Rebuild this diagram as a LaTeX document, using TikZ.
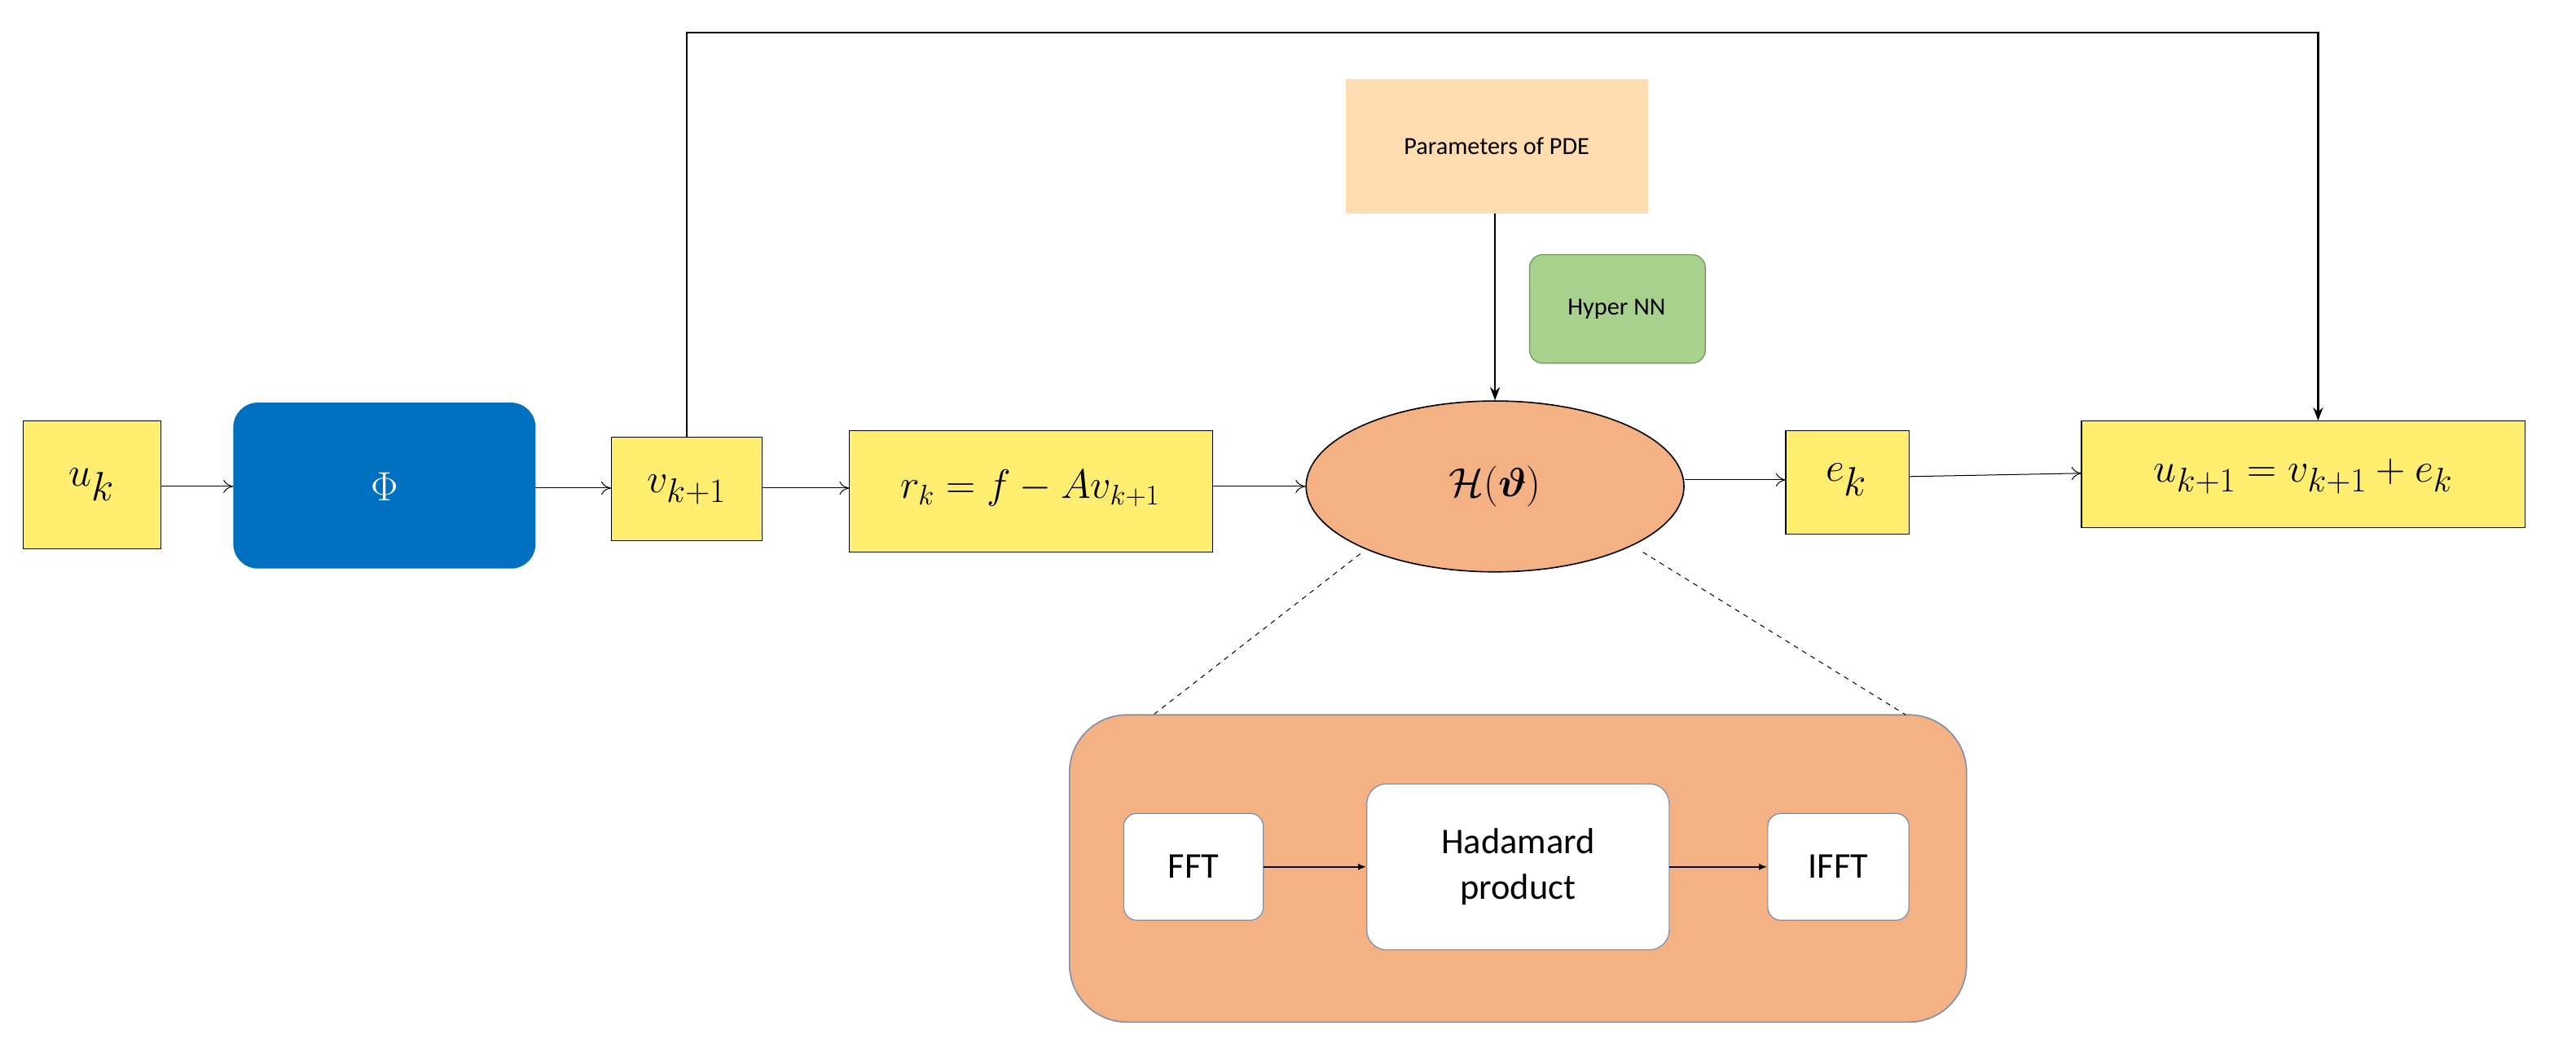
\documentclass[tikz,border=0pt]{standalone}
\usepackage{fontspec}
\usepackage{amsmath,bm}
\setsansfont{Carlito}
\usetikzlibrary{shapes.geometric,arrows.meta}
\definecolor{yel}{HTML}{FFEE6F}
\definecolor{blu}{HTML}{0070C0}
\definecolor{ora}{HTML}{F4B183}
\definecolor{pea}{HTML}{FFDDB0}
\definecolor{grn}{HTML}{A9D18E}
\definecolor{grb}{HTML}{6A9A50}
\definecolor{gbo}{HTML}{7F8FA9}
\begin{document}
\begin{tikzpicture}[x=1pt,y=-1pt,
 yb/.style={draw=black,fill=yel,line width=0.6pt},
 thin/.style={line width=0.5pt,-{To[length=6pt,width=8pt]}},
 thk/.style={line width=1.1pt,-{Stealth[length=8pt,width=6pt]}},
 inner/.style={line width=0.9pt,-{Latex[length=5pt,width=4pt]}},
 wb/.style={draw=gbo,fill=white,rounded corners=8pt,line width=0.6pt,font=\sffamily\fontsize{22}{26}\selectfont,align=center}]
\useasboundingbox (0,0) rectangle (1568,640);
% boxes
\draw[yb] (14,256) rectangle (98,334); \node (uk) at (56,295) {\fontsize{36}{40}\selectfont$u_k$};
\coordinate (ukE) at (98,296);
\fill[blu,rounded corners=15pt] (142,245) rectangle (326,346);
\node[text=white] (phi) at (234,296) {\fontsize{28}{32}\selectfont$\Phi$};
\draw[yb] (372,266) rectangle (464,329); \node (v) at (418,298) {\fontsize{32}{36}\selectfont$v_{k+1}$};
\draw[yb] (517,262) rectangle (738,336); \node (r) at (627,297) {\fontsize{25}{30}\selectfont$r_k=f-Av_{k+1}$};
\node[ellipse,draw=black,fill=ora,line width=0.8pt,minimum width=230pt,minimum height=104pt] (H) at (910,296) {\fontsize{30}{34}\selectfont$\mathcal{H}(\bm{\vartheta})$};
\draw[yb] (1087,262) rectangle (1162,325); \node (e) at (1124,292) {\fontsize{36}{40}\selectfont$e_k$};
\draw[yb] (1267,256) rectangle (1537,321); \node (u1) at (1402,290) {\fontsize{29}{34}\selectfont$u_{k+1}=v_{k+1}+e_k$};
\fill[pea] (819,48) rectangle (1003,130);
\node[font=\sffamily\fontsize{15}{18}\selectfont] (par) at (911,89) {Parameters of PDE};
\draw[fill=grn,draw=grb,rounded corners=8pt,line width=0.6pt] (931,155) rectangle (1038,221);
\node[font=\sffamily\fontsize{15}{18}\selectfont] (hnn) at (984,188) {Hyper NN};
% connectors
\coordinate (a1) at (142,296); \draw[thin] (ukE) -- (a1);
\draw[thin] (326,297) -- (372,297);
\draw[thin] (464,297) -- (517,297);
\draw[thin] (738,296) -- (H.west);
\draw[thin] (H.east |- 0,292) -- (1087,292);
\draw[thin] (1162,290) -- (1267,288);
\coordinate (vt) at (418,266); \coordinate (ut) at (1411,256);
\draw[thk] (vt) -- (418,20) -- (1411,20) -- (ut);
\coordinate (pb) at (910,130);
\draw[thk] (pb) -- (H.north);
% bottom
\draw[fill=ora,draw=gbo,line width=0.8pt,rounded corners=35pt] (651,435) rectangle (1197,622);
\draw[dashed,line width=0.5pt] (828,337) -- (702,435);
\draw[dashed,line width=0.5pt] (1000,336) -- (1160,435);
\node[wb,minimum width=85pt,minimum height=65pt] (fft) at (726.5,527.5) {FFT};
\node[wb,minimum width=184pt,minimum height=101pt,rounded corners=12pt] (had) at (924,527.5) {Hadamard\\[2pt]product};
\node[wb,minimum width=86pt,minimum height=65pt] (ifft) at (1119,527.5) {IFFT};
\draw[inner] (fft) -- (had);
\draw[inner] (had) -- (ifft);
\end{tikzpicture}
\end{document}
